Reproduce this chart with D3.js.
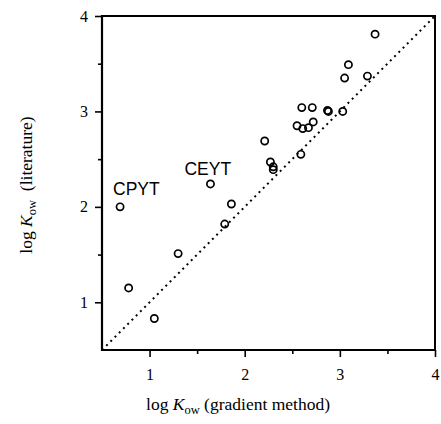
<!DOCTYPE html>
<html>
<head>
<meta charset="utf-8">
<script src="https://cdn.jsdelivr.net/npm/d3@7"></script>
<style>
body { margin: 0; background: #fff; }
</style>
</head>
<body>
<svg id="chart" width="441" height="424"></svg>
<script>
// log Kow: gradient method (x) vs literature (y)
let gradientValues = [0.69, 0.78, 1.05, 1.30, 1.64, 1.79, 1.86, 2.21, 2.27, 2.30, 2.30, 2.59, 2.55, 2.61, 2.67, 2.72, 2.60, 2.71, 2.87, 2.88, 3.03, 3.05, 3.09, 3.29, 3.37];
let literatureValues = [2.00, 1.15, 0.83, 1.51, 2.24, 1.82, 2.03, 2.69, 2.47, 2.42, 2.39, 2.55, 2.85, 2.82, 2.83, 2.89, 3.04, 3.04, 3.01, 3.00, 3.00, 3.35, 3.49, 3.37, 3.81];
let majorTicks = [1, 2, 3, 4];
let minorTicks = [1.5, 2.5, 3.5];
let pointLabels = ["CPYT", "CEYT"];
let labelIndex = [0, 4];

function drawChart()
{
	let svg = d3.select("#chart");

	let left = 102, right = 435, top = 16, bottom = 350;
	let serif = "Liberation Serif, Times New Roman, serif";

	let x = d3.scaleLinear().domain([0.5, 4]).range([left, right]);
	let y = d3.scaleLinear().domain([0.5, 4]).range([bottom, top]);

	// y = x reference line
	svg.append("line")
		.attr("x1", x(0.5)).attr("y1", y(0.5))
		.attr("x2", x(4)).attr("y2", y(4))
		.attr("stroke", "#000").attr("stroke-width", 2)
		.attr("stroke-dasharray", "2,4");

	// frame top & right
	svg.append("path")
		.attr("d", "M" + left + "," + top + "H" + right + "V" + bottom)
		.attr("fill", "none").attr("stroke", "#000").attr("stroke-width", 2);

	svg.append("g").attr("transform", "translate(0," + bottom + ")")
		.call(d3.axisBottom(x).tickValues(majorTicks).tickSize(7).tickPadding(12).tickFormat(d3.format("d")));
	svg.append("g").attr("transform", "translate(0," + bottom + ")")
		.call(d3.axisBottom(x).tickValues(minorTicks).tickSize(4).tickFormat(""));

	svg.append("g").attr("transform", "translate(" + left + ",0)")
		.call(d3.axisLeft(y).tickValues(majorTicks).tickSize(7).tickPadding(7).tickFormat(d3.format("d")));
	svg.append("g").attr("transform", "translate(" + left + ",0)")
		.call(d3.axisLeft(y).tickValues(minorTicks).tickSize(4).tickFormat(""));

	svg.selectAll(".domain").remove();
	svg.selectAll(".tick line").attr("stroke", "#000").attr("stroke-width", 1.6);
	svg.selectAll(".tick text").attr("font-family", serif).attr("font-size", 16).attr("fill", "#000");

	// axis lines
	svg.append("line").attr("x1", x(0.5) - 1).attr("x2", x(4) + 1).attr("y1", y(0.5)).attr("y2", y(0.5))
		.attr("stroke", "#000").attr("stroke-width", 2.2);
	svg.append("line").attr("x1", x(0.5)).attr("x2", x(0.5)).attr("y1", y(0.5) + 1).attr("y2", y(4) - 1)
		.attr("stroke", "#000").attr("stroke-width", 2.2);

	svg.selectAll("circle.pt").data(gradientValues).enter().append("circle")
		.attr("class", "pt")
		.attr("cx", function(d) { return x(d); })
		.attr("cy", function(d, i) { return y(literatureValues[i]); })
		.attr("r", 3.6)
		.attr("fill", "none").attr("stroke", "#000").attr("stroke-width", 1.7);

	// label offsets from their point, in px
	let offsets = {CPYT: [-7, -12], CEYT: [-26, -9]};

	svg.selectAll("text.lbl").data(pointLabels).enter().append("text")
		.attr("class", "lbl")
		.attr("x", function(d, i) { return x(gradientValues[labelIndex[i]]) + offsets[d][0]; })
		.attr("y", function(d, i) { return y(literatureValues[labelIndex[i]]) + offsets[d][1]; })
		.attr("font-family", "Liberation Sans, Arial, sans-serif")
		.attr("font-size", 17.5)
		.text(function(d) { return d; });

	let xTitle = svg.append("text").attr("x", 238).attr("y", 410).attr("text-anchor", "middle")
		.attr("font-family", serif).attr("font-size", 17.5);
	xTitle.append("tspan").text("log ");
	xTitle.append("tspan").attr("font-style", "italic").text("K");
	xTitle.append("tspan").attr("font-size", 12.5).attr("dy", 4).text("ow");
	xTitle.append("tspan").attr("dy", -4).text(" (gradient method)");

	let yTitle = svg.append("text").attr("transform", "translate(32,185) rotate(-90)").attr("text-anchor", "middle")
		.attr("font-family", serif).attr("font-size", 17.5);
	yTitle.append("tspan").text("log ");
	yTitle.append("tspan").attr("font-style", "italic").text("K");
	yTitle.append("tspan").attr("font-size", 12.5).attr("dy", 4).text("ow");
	yTitle.append("tspan").attr("dy", -4).text("\u00a0\u00a0(literature)");
}

drawChart();
</script>
</body>
</html>
